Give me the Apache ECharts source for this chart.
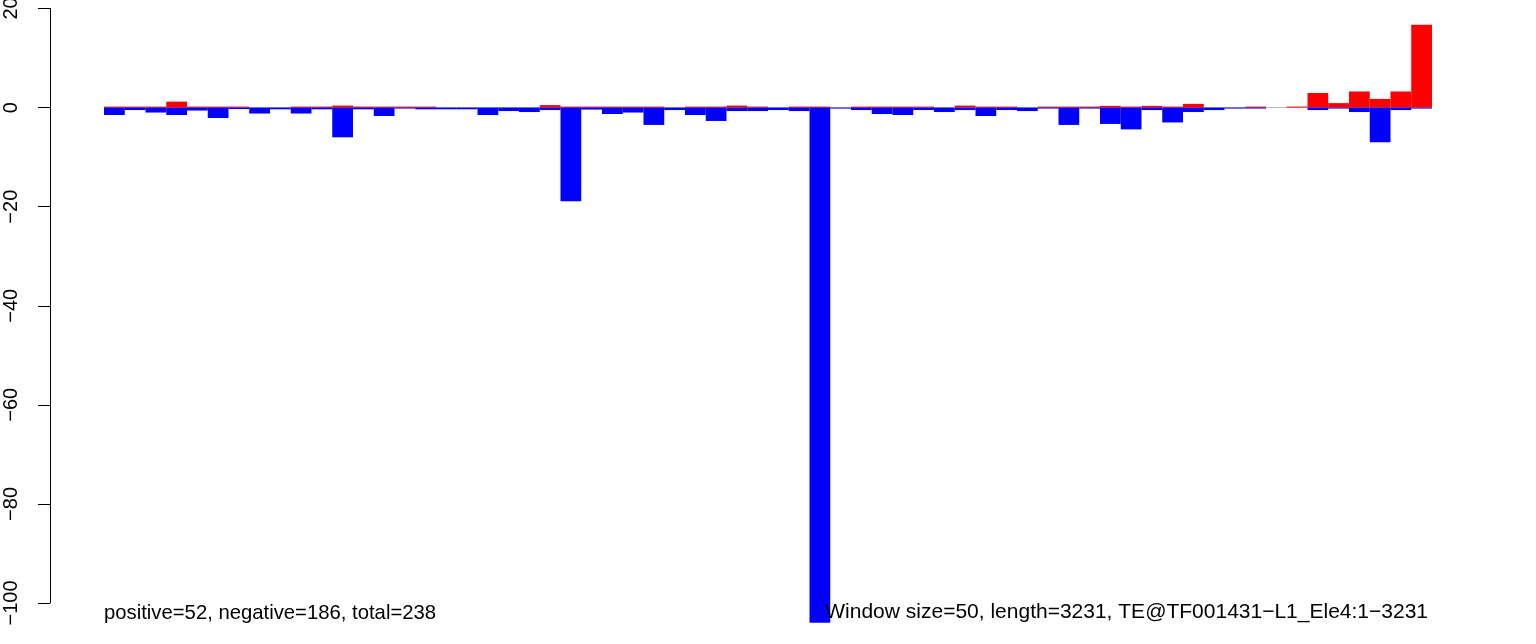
<!DOCTYPE html>
<html><head><meta charset="utf-8">
<script src="https://cdn.jsdelivr.net/npm/echarts@6/dist/echarts.min.js"></script>
<style>html,body{margin:0;padding:0;background:#fff}#c{width:1536px;height:644px}</style>
</head><body><div id="c"></div>
<script>
const windows = ['1','2','3','4','5','6','7','8','9','10','11','12','13','14','15','16','17','18','19','20','21','22','23','24','25','26','27','28','29','30','31','32','33','34','35','36','37','38','39','40','41','42','43','44','45','46','47','48','49','50','51','52','53','54','55','56','57','58','59','60','61','62','63','64'];
const positive = [0.2,0.2,0.2,1.2,0.2,0.2,0.2,0,0,0.2,0.2,0.4,0.2,0.2,0.2,0.2,0,0,0,0,0,0.5,0.2,0.2,0.2,0.2,0.2,0,0.2,0.2,0.4,0.2,0,0.2,0.2,0,0.2,0.2,0.2,0.2,0,0.4,0.2,0.2,0,0.2,0.2,0.2,0.35,0.2,0.35,0.2,0.75,0,0,0.2,0,0.2,2.95,0.9,3.25,1.75,3.25,16.7];
const negative = [-1.5,-0.5,-1.0,-1.5,-0.6,-2.1,-0.3,-1.2,-0.35,-1.2,-0.35,-6.0,-0.35,-1.7,-0.2,-0.35,-0.35,-0.35,-1.5,-0.7,-0.9,-0.5,-18.9,-0.4,-1.3,-1.0,-3.5,-0.5,-1.5,-2.7,-0.7,-0.7,-0.5,-0.7,-104,-0.2,-0.5,-1.3,-1.5,-0.5,-0.9,-0.5,-1.7,-0.5,-0.7,-0.2,-3.5,-0.2,-3.3,-4.4,-0.5,-3.0,-0.9,-0.5,-0.2,-0.2,0,0,-0.5,-0.2,-0.9,-7.0,-0.5,-0.2];
const yTicks = [-100,-80,-60,-40,-20,0,20];
const leftNote = 'positive=52, negative=186, total=238';
const rightNote = 'Window size=50, length=3231, TE@TF001431\u2212L1_Ele4:1\u22123231';

const FONT = '"Liberation Sans", Arial, Helvetica, sans-serif';
const chart = echarts.init(document.getElementById('c'), null, {renderer: 'canvas'});
chart.setOption({
  animation: false,
  backgroundColor: '#ffffff',
  grid: {left: 104, right: 104, top: 8.5, bottom: 41, containLabel: false, outerBoundsMode: 'none'},
  xAxis: {
    type: 'category', data: windows, boundaryGap: true,
    show: false
  },
  yAxis: {
    type: 'value',
    min: yTicks[0], max: yTicks[yTicks.length - 1], interval: 20,
    position: 'left', offset: 54,
    axisLine: {show: true, lineStyle: {color: '#000', width: 1}},
    axisTick: {show: true, length: 12, lineStyle: {color: '#000', width: 1}},
    splitLine: {show: false},
    axisLabel: {
      show: true, rotate: 90, margin: 29, fontSize: 20, fontFamily: FONT, color: '#000',
      showMinLabel: true, showMaxLabel: true, hideOverlap: false,
      formatter: v => String(v).replace('-', '\u2212')
    }
  },
  series: [
    {
      type: 'bar', name: 'positive', data: positive,
      barCategoryGap: '0%', barGap: '-100%',
      itemStyle: {color: '#ff0000'}, z: 3, clip: false,
      markLine: {
        silent: true, symbol: 'none', z: 1, label: {show: false},
        lineStyle: {color: '#bebebe', width: 1, type: 'solid'},
        data: [{yAxis: 0}]
      }
    },
    {
      type: 'bar', name: 'negative', data: negative,
      barCategoryGap: '0%', barGap: '-100%',
      itemStyle: {color: '#0000ff'}, z: 3, clip: false
    }
  ],
  graphic: [
    {type: 'text', z: 100, left: 104, top: 603,
     style: {text: leftNote, font: '20.3px ' + FONT, fill: '#000'}},
    {type: 'text', z: 100, right: 108, top: 602,
     style: {text: rightNote, font: '21px ' + FONT, fill: '#000'}}
  ]
});
</script>
</body></html>
